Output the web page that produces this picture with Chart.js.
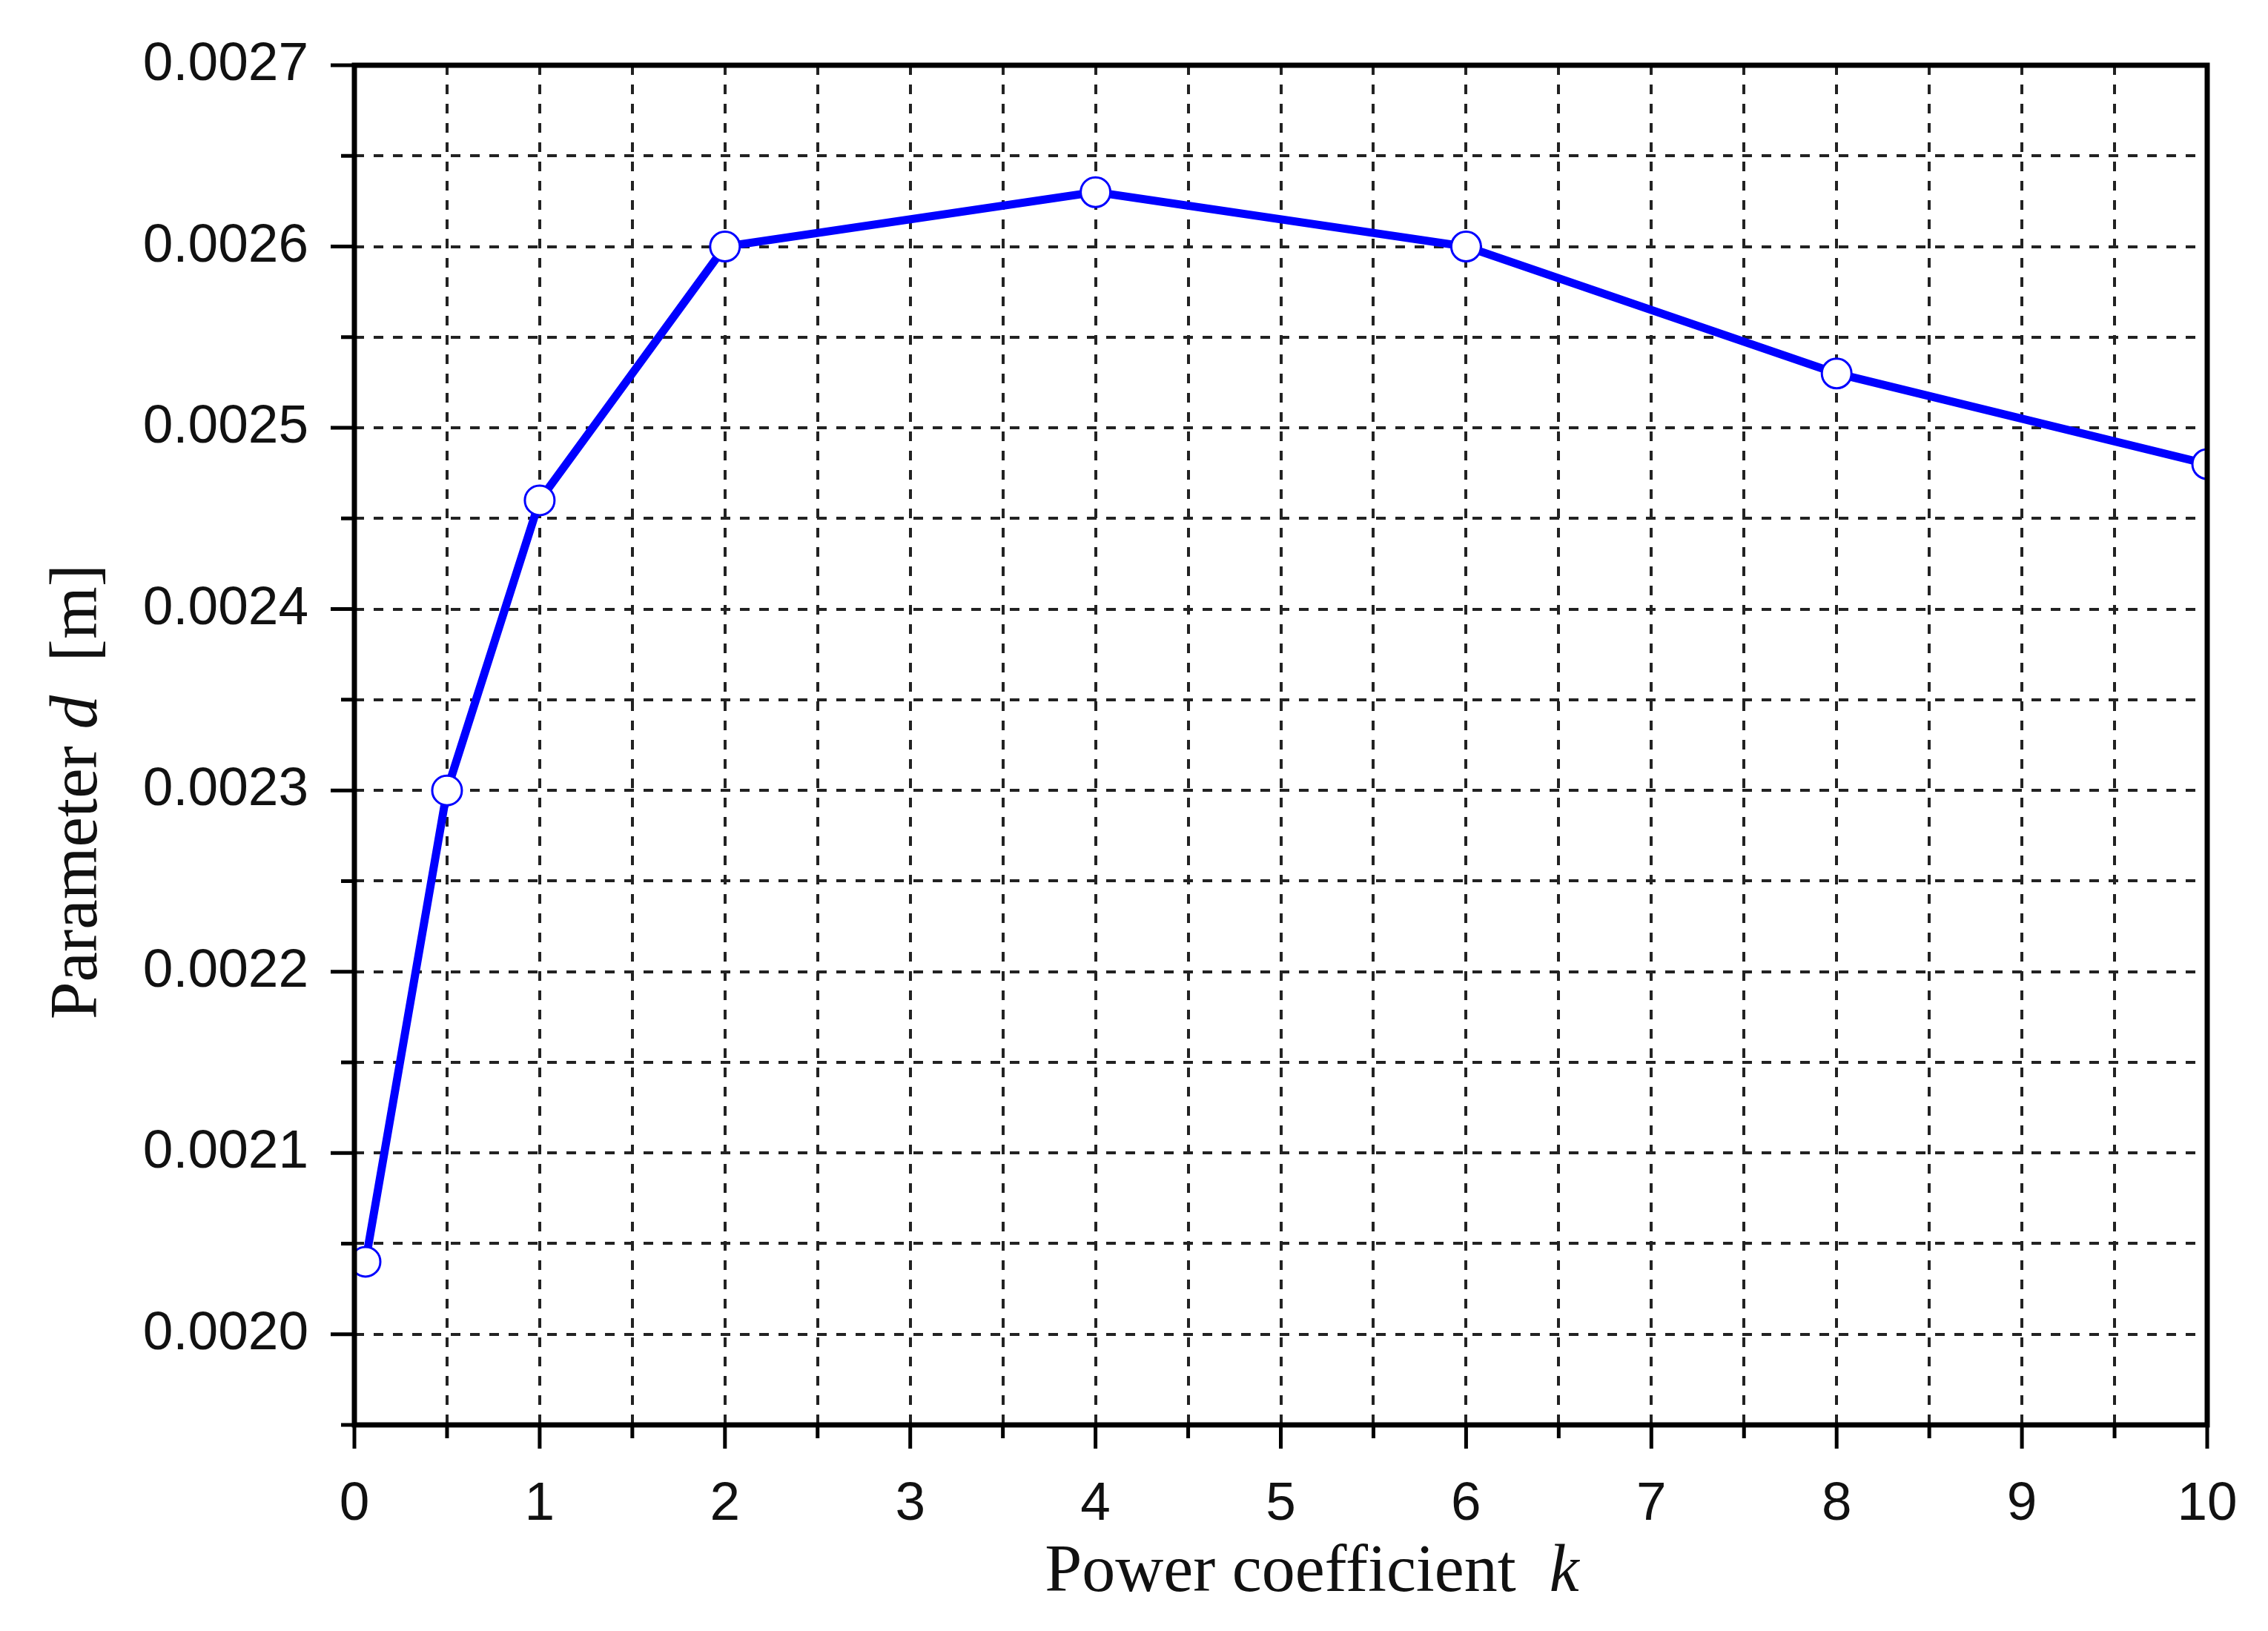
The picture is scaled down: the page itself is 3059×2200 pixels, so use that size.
<!DOCTYPE html>
<html>
<head>
<meta charset="utf-8">
<script src="https://cdn.jsdelivr.net/npm/chart.js@4.4.0/dist/chart.umd.min.js"></script>
<style>
  html, body { margin: 0; padding: 0; background: #fff; }
</style>
</head>
<body>
<canvas id="chart" width="3059" height="2200"></canvas>
<script>
// values
const kValues = [0.06, 0.5, 1, 2, 4, 6, 8, 10];
const dValues = [0.00204, 0.0023, 0.00246, 0.0026, 0.00263, 0.0026, 0.00253, 0.00248];

const xTickLabels = ['0', '1', '2', '3', '4', '5', '6', '7', '8', '9', '10'];
const yTickLabels = ['0.0020', '0.0021', '0.0022', '0.0023', '0.0024', '0.0025', '0.0026', '0.0027'];

// grid (major + minor) positions
const xGrid = [0, 0.5, 1, 1.5, 2, 2.5, 3, 3.5, 4, 4.5, 5, 5.5, 6, 6.5, 7, 7.5, 8, 8.5, 9, 9.5, 10];
const yGrid = [0.00195, 0.0020, 0.00205, 0.0021, 0.00215, 0.0022, 0.00225, 0.0023, 0.00235,
               0.0024, 0.00245, 0.0025, 0.00255, 0.0026, 0.00265, 0.0027];

const isMajorX = v => xTickLabels.some(l => Math.abs(parseFloat(l) - v) < 1e-9);
const isMajorY = v => yTickLabels.some(l => Math.abs(parseFloat(l) - v) < 1e-9);

function drawSegments(ctx, segs, cx, baseline) {
  let total = 0;
  segs.forEach(s => { ctx.font = s[1]; total += ctx.measureText(s[0]).width; });
  let x = cx - total / 2;
  segs.forEach(s => {
    ctx.font = s[1];
    ctx.fillText(s[0], x, baseline);
    x += ctx.measureText(s[0]).width;
  });
}

const frameAndTicks = {
  id: 'frameAndTicks',
  afterDatasetsDraw(chart) {
    const { ctx, chartArea: a, scales: { x, y } } = chart;
    ctx.save();
    ctx.strokeStyle = '#000';
    ctx.lineCap = 'butt';
    ctx.lineWidth = 5;
    ctx.beginPath();
    xGrid.forEach(v => {
      const px = x.getPixelForValue(v);
      const len = isMajorX(v) ? 32 : 18;
      ctx.moveTo(px, a.bottom);
      ctx.lineTo(px, a.bottom + len);
    });
    yGrid.forEach(v => {
      const py = y.getPixelForValue(v);
      const len = isMajorY(v) ? 32 : 18;
      ctx.moveTo(a.left, py);
      ctx.lineTo(a.left - len, py);
    });
    ctx.stroke();
    ctx.lineWidth = 7;
    ctx.strokeRect(a.left, a.top, a.right - a.left, a.bottom - a.top);
    ctx.restore();
  },
  afterDraw(chart) {
    const { ctx, chartArea: a } = chart;
    ctx.save();
    ctx.fillStyle = '#111';
    ctx.textBaseline = 'alphabetic';
    drawSegments(ctx, [
      ['Power coefficient  ', '90px "Liberation Serif"'],
      ['k', 'italic 90px "Liberation Serif"']
    ], (a.left + a.right) / 2 + 42, a.bottom + 224);

    ctx.translate(130, a.top + 980);
    ctx.rotate(-Math.PI / 2);
    drawSegments(ctx, [
      ['Parameter ', '91px "Liberation Serif"'],
      ['d', 'italic 91px "Liberation Serif"'],
      ['  [m]', '91px "Liberation Serif"']
    ], 0, 0);
    ctx.restore();
  }
};

const whiteBg = {
  id: 'whiteBg',
  beforeDraw(chart) {
    const ctx = chart.ctx;
    ctx.save();
    ctx.fillStyle = '#fff';
    ctx.fillRect(0, 0, chart.width, chart.height);
    ctx.restore();
  }
};

const ctx = document.getElementById('chart').getContext('2d');
new Chart(ctx, {
  type: 'line',
  data: {
    datasets: [{
      data: kValues.map((k, i) => ({ x: k, y: dValues[i] })),
      borderColor: '#0000ff',
      borderWidth: 11,
      tension: 0,
      pointStyle: 'circle',
      pointRadius: 20,
      pointBorderWidth: 3,
      pointBackgroundColor: '#fff',
      pointBorderColor: '#0000ff',
      clip: 0
    }]
  },
  options: {
    responsive: false,
    animation: false,
    devicePixelRatio: 1,
    layout: { padding: { left: 0, top: 88, right: 82, bottom: 0 } },
    plugins: {
      legend: { display: false },
      tooltip: { enabled: false },
      title: { display: false }
    },
    scales: {
      x: {
        type: 'linear',
        min: 0,
        max: 10,
        afterBuildTicks: scale => { scale.ticks = xGrid.map(v => ({ value: v })); },
        afterFit: scale => {
          scale.height = 2200 - 1922;
          scale.paddingLeft = 0;
          scale.paddingRight = 0;
        },
        ticks: {
          autoSkip: false,
          maxRotation: 0,
          padding: 64,
          color: '#111',
          font: { family: '"Liberation Sans", Arial, sans-serif', size: 73 },
          callback: v => isMajorX(v) ? xTickLabels.find(l => Math.abs(parseFloat(l) - v) < 1e-9) : ''
        },
        grid: { color: '#222', lineWidth: 4, drawTicks: false },
        border: { display: false, dash: [13, 13] }
      },
      y: {
        type: 'linear',
        min: 0.00195,
        max: 0.0027,
        afterBuildTicks: scale => { scale.ticks = yGrid.map(v => ({ value: v })); },
        afterFit: scale => {
          scale.width = 478;
          scale.paddingTop = 0;
          scale.paddingBottom = 0;
        },
        ticks: {
          autoSkip: false,
          padding: 62,
          color: '#111',
          font: { family: '"Liberation Sans", Arial, sans-serif', size: 73 },
          callback: v => isMajorY(v) ? yTickLabels.find(l => Math.abs(parseFloat(l) - v) < 1e-9) : ''
        },
        grid: { color: '#222', lineWidth: 4, drawTicks: false },
        border: { display: false, dash: [13, 13] }
      }
    }
  },
  plugins: [whiteBg, frameAndTicks]
});
</script>
</body>
</html>
